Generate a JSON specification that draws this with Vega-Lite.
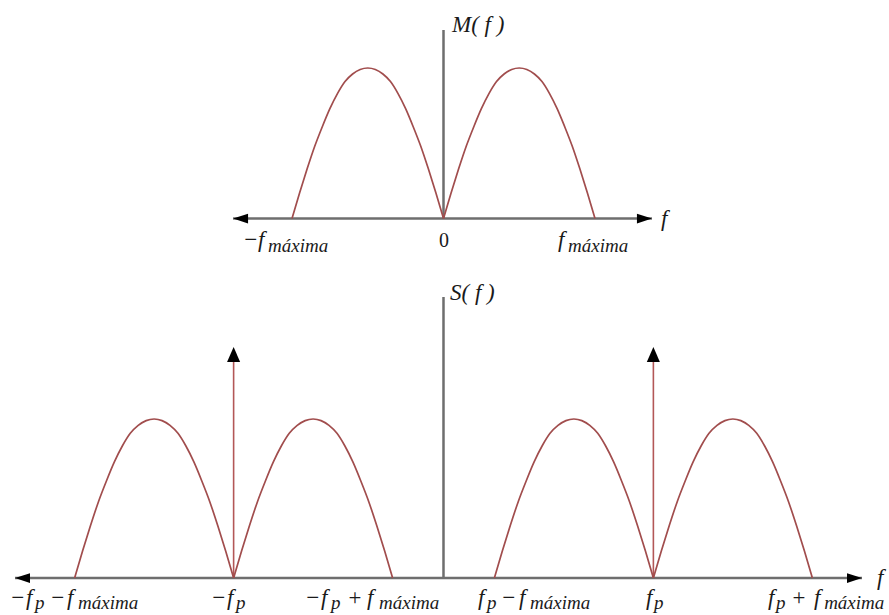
{
  "$schema": "https://vega.github.io/schema/vega-lite/v6.json",
  "padding": 0,
  "spacing": 0,
  "bounds": "flush",
  "background": "white",
  "config": {"view": {"stroke": null}},
  "datasets": {
    "mLobes": [
      {"g":"L","x":-1,"y":0},{"g":"L","x":-0.95,"y":0.17},{"g":"L","x":-0.9,"y":0.33},{"g":"L","x":-0.85,"y":0.48},{"g":"L","x":-0.8,"y":0.61},{"g":"L","x":-0.75,"y":0.73},{"g":"L","x":-0.7,"y":0.83},{"g":"L","x":-0.65,"y":0.91},{"g":"L","x":-0.6,"y":0.96},{"g":"L","x":-0.55,"y":0.99},{"g":"L","x":-0.5,"y":1},{"g":"L","x":-0.45,"y":0.99},{"g":"L","x":-0.4,"y":0.96},{"g":"L","x":-0.35,"y":0.91},{"g":"L","x":-0.3,"y":0.83},{"g":"L","x":-0.25,"y":0.73},{"g":"L","x":-0.2,"y":0.61},{"g":"L","x":-0.15,"y":0.48},{"g":"L","x":-0.1,"y":0.33},{"g":"L","x":-0.05,"y":0.17},{"g":"L","x":0,"y":0},
      {"g":"R","x":0,"y":0},{"g":"R","x":0.05,"y":0.17},{"g":"R","x":0.1,"y":0.33},{"g":"R","x":0.15,"y":0.48},{"g":"R","x":0.2,"y":0.61},{"g":"R","x":0.25,"y":0.73},{"g":"R","x":0.3,"y":0.83},{"g":"R","x":0.35,"y":0.91},{"g":"R","x":0.4,"y":0.96},{"g":"R","x":0.45,"y":0.99},{"g":"R","x":0.5,"y":1},{"g":"R","x":0.55,"y":0.99},{"g":"R","x":0.6,"y":0.96},{"g":"R","x":0.65,"y":0.91},{"g":"R","x":0.7,"y":0.83},{"g":"R","x":0.75,"y":0.73},{"g":"R","x":0.8,"y":0.61},{"g":"R","x":0.85,"y":0.48},{"g":"R","x":0.9,"y":0.33},{"g":"R","x":0.95,"y":0.17},{"g":"R","x":1,"y":0}
    ],
    "sLobes": [
      {"g":"a","x":-2.32,"y":0},{"g":"a","x":-2.27,"y":0.17},{"g":"a","x":-2.22,"y":0.33},{"g":"a","x":-2.17,"y":0.48},{"g":"a","x":-2.12,"y":0.61},{"g":"a","x":-2.07,"y":0.73},{"g":"a","x":-2.02,"y":0.83},{"g":"a","x":-1.97,"y":0.91},{"g":"a","x":-1.92,"y":0.96},{"g":"a","x":-1.87,"y":0.99},{"g":"a","x":-1.82,"y":1},{"g":"a","x":-1.77,"y":0.99},{"g":"a","x":-1.72,"y":0.96},{"g":"a","x":-1.67,"y":0.91},{"g":"a","x":-1.62,"y":0.83},{"g":"a","x":-1.57,"y":0.73},{"g":"a","x":-1.52,"y":0.61},{"g":"a","x":-1.47,"y":0.48},{"g":"a","x":-1.42,"y":0.33},{"g":"a","x":-1.37,"y":0.17},{"g":"a","x":-1.32,"y":0},
      {"g":"b","x":-1.32,"y":0},{"g":"b","x":-1.27,"y":0.17},{"g":"b","x":-1.22,"y":0.33},{"g":"b","x":-1.17,"y":0.48},{"g":"b","x":-1.12,"y":0.61},{"g":"b","x":-1.07,"y":0.73},{"g":"b","x":-1.02,"y":0.83},{"g":"b","x":-0.97,"y":0.91},{"g":"b","x":-0.92,"y":0.96},{"g":"b","x":-0.87,"y":0.99},{"g":"b","x":-0.82,"y":1},{"g":"b","x":-0.77,"y":0.99},{"g":"b","x":-0.72,"y":0.96},{"g":"b","x":-0.67,"y":0.91},{"g":"b","x":-0.62,"y":0.83},{"g":"b","x":-0.57,"y":0.73},{"g":"b","x":-0.52,"y":0.61},{"g":"b","x":-0.47,"y":0.48},{"g":"b","x":-0.42,"y":0.33},{"g":"b","x":-0.37,"y":0.17},{"g":"b","x":-0.32,"y":0},
      {"g":"c","x":0.32,"y":0},{"g":"c","x":0.37,"y":0.17},{"g":"c","x":0.42,"y":0.33},{"g":"c","x":0.47,"y":0.48},{"g":"c","x":0.52,"y":0.61},{"g":"c","x":0.57,"y":0.73},{"g":"c","x":0.62,"y":0.83},{"g":"c","x":0.67,"y":0.91},{"g":"c","x":0.72,"y":0.96},{"g":"c","x":0.77,"y":0.99},{"g":"c","x":0.82,"y":1},{"g":"c","x":0.87,"y":0.99},{"g":"c","x":0.92,"y":0.96},{"g":"c","x":0.97,"y":0.91},{"g":"c","x":1.02,"y":0.83},{"g":"c","x":1.07,"y":0.73},{"g":"c","x":1.12,"y":0.61},{"g":"c","x":1.17,"y":0.48},{"g":"c","x":1.22,"y":0.33},{"g":"c","x":1.27,"y":0.17},{"g":"c","x":1.32,"y":0},
      {"g":"d","x":1.32,"y":0},{"g":"d","x":1.37,"y":0.17},{"g":"d","x":1.42,"y":0.33},{"g":"d","x":1.47,"y":0.48},{"g":"d","x":1.52,"y":0.61},{"g":"d","x":1.57,"y":0.73},{"g":"d","x":1.62,"y":0.83},{"g":"d","x":1.67,"y":0.91},{"g":"d","x":1.72,"y":0.96},{"g":"d","x":1.77,"y":0.99},{"g":"d","x":1.82,"y":1},{"g":"d","x":1.87,"y":0.99},{"g":"d","x":1.92,"y":0.96},{"g":"d","x":1.97,"y":0.91},{"g":"d","x":2.02,"y":0.83},{"g":"d","x":2.07,"y":0.73},{"g":"d","x":2.12,"y":0.61},{"g":"d","x":2.17,"y":0.48},{"g":"d","x":2.22,"y":0.33},{"g":"d","x":2.27,"y":0.17},{"g":"d","x":2.32,"y":0}
    ],
    "mLines": [
      {"c":"axis","x":-1.389,"x2":1.376,"y":0,"y2":0},
      {"c":"axis","x":0,"x2":0,"y":0,"y2":1.2525}
    ],
    "sLines": [
      {"c":"axis","x":-2.695,"x2":2.632,"y":0,"y2":0},
      {"c":"axis","x":0,"x2":0,"y":0,"y2":1.767},
      {"c":"imp","x":-1.32,"x2":-1.32,"y":0,"y2":1.4},
      {"c":"imp","x":1.32,"x2":1.32,"y":0,"y2":1.4}
    ],
    "mHeads": [
      {"d":"left","x":-1.389,"y":0},
      {"d":"right","x":1.376,"y":0}
    ],
    "sHeads": [
      {"d":"left","x":-2.695,"y":0},
      {"d":"right","x":2.632,"y":0},
      {"d":"up","x":-1.32,"y":1.453},
      {"d":"up","x":1.32,"y":1.453}
    ],
    "mText": [
      {"k":"main","t":"−","x":-1.323,"y":-0.189},
      {"k":"main","t":"f","x":-1.224,"y":-0.189},
      {"k":"sub","t":"máxima","x":-1.158,"y":-0.223},
      {"k":"up","t":"0","x":0.003,"y":-0.189},
      {"k":"main","t":"f","x":0.756,"y":-0.189},
      {"k":"sub","t":"máxima","x":0.822,"y":-0.223},
      {"k":"main","t":"f","x":1.436,"y":-0.05},
      {"k":"main","t":"M( f )","x":0.056,"y":1.239}
    ],
    "sText": [
      {"k":"main","t":"−","x":-2.726,"y":-0.17},
      {"k":"main","t":"f","x":-2.626,"y":-0.17},
      {"k":"sub","t":"p","x":-2.569,"y":-0.196},
      {"k":"main","t":"−","x":-2.475,"y":-0.17},
      {"k":"main","t":"f","x":-2.368,"y":-0.17},
      {"k":"sub","t":"máxima","x":-2.298,"y":-0.196},
      {"k":"main","t":"−","x":-1.462,"y":-0.17},
      {"k":"main","t":"f","x":-1.362,"y":-0.17},
      {"k":"sub","t":"p","x":-1.305,"y":-0.196},
      {"k":"main","t":"−","x":-0.871,"y":-0.17},
      {"k":"main","t":"f","x":-0.77,"y":-0.17},
      {"k":"sub","t":"p","x":-0.708,"y":-0.196},
      {"k":"main","t":"+","x":-0.607,"y":-0.17},
      {"k":"main","t":"f","x":-0.481,"y":-0.17},
      {"k":"sub","t":"máxima","x":-0.405,"y":-0.196},
      {"k":"main","t":"f","x":0.217,"y":-0.17},
      {"k":"sub","t":"p","x":0.273,"y":-0.196},
      {"k":"main","t":"−","x":0.361,"y":-0.17},
      {"k":"main","t":"f","x":0.475,"y":-0.17},
      {"k":"sub","t":"máxima","x":0.544,"y":-0.196},
      {"k":"main","t":"f","x":1.274,"y":-0.17},
      {"k":"sub","t":"p","x":1.324,"y":-0.196},
      {"k":"main","t":"f","x":2.041,"y":-0.17},
      {"k":"sub","t":"p","x":2.091,"y":-0.196},
      {"k":"main","t":"+","x":2.185,"y":-0.17},
      {"k":"main","t":"f","x":2.33,"y":-0.17},
      {"k":"sub","t":"máxima","x":2.394,"y":-0.196},
      {"k":"main","t":"f","x":2.726,"y":-0.044},
      {"k":"main","t":"S( f )","x":0.041,"y":1.748}
    ]
  },
  "vconcat": [
    {
      "width": 889,
      "height": 260,
      "encoding": {
        "x": {"field": "x", "type": "quantitative", "axis": null, "scale": {"domain": [-2.9274, 2.9406], "nice": false, "zero": false}},
        "y": {"field": "y", "type": "quantitative", "axis": null, "scale": {"domain": [-0.2757, 1.4518], "nice": false, "zero": false}}
      },
      "layer": [
        {
          "data": {"name": "mLines"},
          "mark": {"type": "rule", "color": "#6e6e6e", "strokeWidth": 2.5},
          "encoding": {"x2": {"field": "x2"}, "y2": {"field": "y2"}}
        },
        {
          "data": {"name": "mLobes"},
          "mark": {"type": "line", "color": "#a14d4d", "strokeWidth": 1.7, "interpolate": "monotone"},
          "encoding": {"detail": {"field": "g", "type": "nominal"}}
        },
        {
          "data": {"name": "mHeads"},
          "mark": {"type": "point", "filled": true, "color": "black", "opacity": 1, "size": 225, "strokeWidth": 0},
          "encoding": {
            "shape": {"field": "d", "type": "nominal", "legend": null, "scale": {"domain": ["left", "right", "up"], "range": ["M0,0L2,-0.65L2,0.65Z", "M0,0L-2,-0.65L-2,0.65Z", "M0,0L-0.87,2L0.87,2Z"]}}
          }
        },
        {
          "data": {"name": "mText"},
          "transform": [{"filter": "datum.k == 'main'"}],
          "mark": {"type": "text", "align": "left", "baseline": "alphabetic", "font": "Liberation Serif", "fontStyle": "italic", "fontSize": 23, "color": "#1a1a1a"},
          "encoding": {"text": {"field": "t"}}
        },
        {
          "data": {"name": "mText"},
          "transform": [{"filter": "datum.k == 'sub'"}],
          "mark": {"type": "text", "align": "left", "baseline": "alphabetic", "font": "Liberation Serif", "fontStyle": "italic", "fontSize": 19, "color": "#1a1a1a"},
          "encoding": {"text": {"field": "t"}}
        },
        {
          "data": {"name": "mText"},
          "transform": [{"filter": "datum.k == 'up'"}],
          "mark": {"type": "text", "align": "center", "baseline": "alphabetic", "font": "Liberation Serif", "fontSize": 20, "color": "#1a1a1a"},
          "encoding": {"text": {"field": "t"}}
        }
      ]
    },
    {
      "width": 889,
      "height": 355,
      "encoding": {
        "x": {"field": "x", "type": "quantitative", "axis": null, "scale": {"domain": [-2.7893, 2.8019], "nice": false, "zero": false}},
        "y": {"field": "y", "type": "quantitative", "axis": null, "scale": {"domain": [-0.2327, 2.0], "nice": false, "zero": false}}
      },
      "layer": [
        {
          "data": {"name": "sLines"},
          "transform": [{"filter": "datum.c == 'axis'"}],
          "mark": {"type": "rule", "color": "#6e6e6e", "strokeWidth": 2.5},
          "encoding": {"x2": {"field": "x2"}, "y2": {"field": "y2"}}
        },
        {
          "data": {"name": "sLines"},
          "transform": [{"filter": "datum.c == 'imp'"}],
          "mark": {"type": "rule", "color": "#b35757", "strokeWidth": 1.6},
          "encoding": {"x2": {"field": "x2"}, "y2": {"field": "y2"}}
        },
        {
          "data": {"name": "sLobes"},
          "mark": {"type": "line", "color": "#a14d4d", "strokeWidth": 1.7, "interpolate": "monotone"},
          "encoding": {"detail": {"field": "g", "type": "nominal"}}
        },
        {
          "data": {"name": "sHeads"},
          "mark": {"type": "point", "filled": true, "color": "black", "opacity": 1, "size": 225, "strokeWidth": 0},
          "encoding": {
            "shape": {"field": "d", "type": "nominal", "legend": null, "scale": {"domain": ["left", "right", "up"], "range": ["M0,0L2,-0.65L2,0.65Z", "M0,0L-2,-0.65L-2,0.65Z", "M0,0L-0.87,2L0.87,2Z"]}}
          }
        },
        {
          "data": {"name": "sText"},
          "transform": [{"filter": "datum.k == 'main'"}],
          "mark": {"type": "text", "align": "left", "baseline": "alphabetic", "font": "Liberation Serif", "fontStyle": "italic", "fontSize": 23, "color": "#1a1a1a"},
          "encoding": {"text": {"field": "t"}}
        },
        {
          "data": {"name": "sText"},
          "transform": [{"filter": "datum.k == 'sub'"}],
          "mark": {"type": "text", "align": "left", "baseline": "alphabetic", "font": "Liberation Serif", "fontStyle": "italic", "fontSize": 19, "color": "#1a1a1a"},
          "encoding": {"text": {"field": "t"}}
        }
      ]
    }
  ]
}
